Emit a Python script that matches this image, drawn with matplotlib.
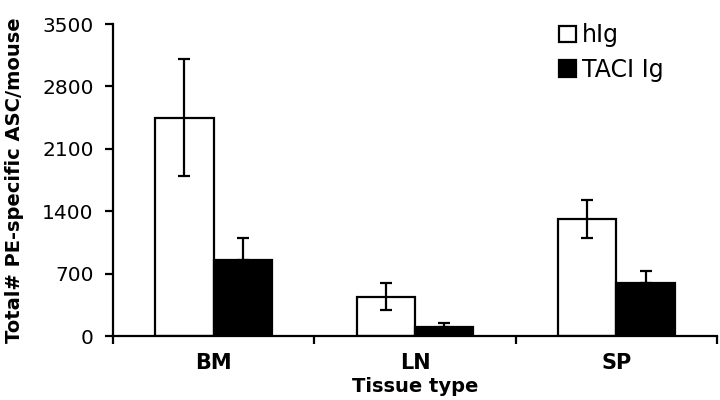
import numpy as np
import matplotlib
matplotlib.use("Agg")
import matplotlib.pyplot as plt
from matplotlib.patches import Patch

plt.rcParams['font.family'] = ['DejaVu Sans']

# ---------------- Data ----------------
categories = ["BM", "LN", "SP"]
series_names = ["hIg", "TACI Ig"]
hig_values = [2450, 440, 1310]
hig_errors = [660, 150, 215]
taci_values = [850, 105, 600]
taci_errors = [250, 45, 125]
y_ticks = [0, 700, 1400, 2100, 2800, 3500]

# ---------------- Plot ----------------
fig = plt.figure(figsize=(7.2, 4.0), dpi=100)
ax = fig.add_axes([113 / 720, 64 / 400, 604 / 720, 312 / 400])

x = np.arange(len(categories)) + 0.5
width = 0.29
err_kw = dict(ecolor='black', elinewidth=1.6, capsize=4, capthick=1.6)

ax.bar(x - width / 2, hig_values, width, yerr=hig_errors, color='white',
       edgecolor='black', linewidth=1.6, error_kw=err_kw, label=series_names[0])
ax.bar(x + width / 2, taci_values, width, yerr=[[0] * 3, taci_errors], color='black',
       edgecolor='black', linewidth=1.6, error_kw=err_kw, label=series_names[1])

ax.set_xlim(0, len(categories))
ax.set_ylim(0, 3500)
ax.set_yticks(y_ticks)
ax.set_yticklabels([str(v) for v in y_ticks], fontsize=14.5)
ax.set_xticks(x)
ax.set_xticklabels(categories, fontsize=15, fontweight='bold')
ax.set_xticks(np.arange(len(categories) + 1), minor=True)
ax.tick_params(axis='x', which='major', length=0, pad=12)
ax.tick_params(axis='x', which='minor', direction='out', length=6, width=1.6)
ax.tick_params(axis='y', direction='out', length=6, width=1.6, pad=8)

for side in ['top', 'right']:
    ax.spines[side].set_visible(False)
for side in ['left', 'bottom']:
    ax.spines[side].set_linewidth(1.6)

ax.set_xlabel("Tissue type", fontsize=14, fontweight='bold', labelpad=3)
ax.set_ylabel("Total# PE-specific ASC/mouse", fontsize=14, fontweight='bold', labelpad=13)

handles = [Patch(facecolor='white', edgecolor='black', linewidth=1.6),
           Patch(facecolor='black', edgecolor='black', linewidth=1.6)]
ax.legend(handles, series_names, loc='upper left', bbox_to_anchor=(538 / 720, 398 / 400),
          bbox_transform=fig.transFigure, frameon=False, fontsize=17,
          handlelength=0.7, handleheight=0.7, handletextpad=0.25, labelspacing=0.45)

fig.savefig("out.png", dpi=100)
